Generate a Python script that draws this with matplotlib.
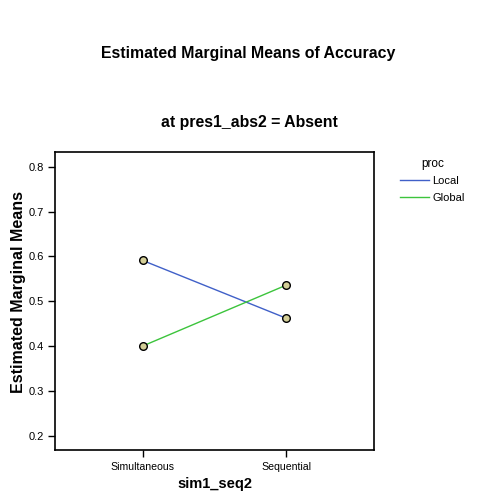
import matplotlib.pyplot as plt

plt.rcParams['font.family'] = ['Liberation Sans', 'DejaVu Sans']

# Data
levels = ['Simultaneous', 'Sequential']
local_means = [0.591, 0.462]
global_means = [0.400, 0.536]
yticks = [0.2, 0.3, 0.4, 0.5, 0.6, 0.7, 0.8]

fig = plt.figure(figsize=(5, 5), dpi=100)
ax = fig.add_axes([0.11, 0.10, 0.638, 0.596])

x = range(len(levels))
ax.plot(x, local_means, color='#4060c8', lw=1, label='Local')
ax.plot(x, global_means, color='#3cc43c', lw=1, label='Global')
for series in (local_means, global_means):
    ax.plot(x, series, ls='none', marker='o', ms=5.5, mfc='#d4cf98',
            mec='black', mew=1)

ax.set_xlim(-0.61, 1.61)
ax.set_ylim(0.168, 0.833)
ax.set_xticks(list(x))
ax.set_xticklabels(levels, fontsize=7.6)
ax.set_yticks(yticks)
ax.set_yticklabels(['%.1f' % t for t in yticks], fontsize=8)
ax.tick_params(direction='out', length=5, width=1, top=False, right=False)
ax.tick_params(axis='y', pad=3)
for sp in ax.spines.values():
    sp.set_linewidth(1.2)

ax.set_xlabel('sim1_seq2', fontsize=10.5, fontweight='bold', labelpad=4)
ax.set_ylabel('Estimated Marginal Means', fontsize=11.5, fontweight='bold')
ax.yaxis.set_label_coords(-0.092, 0.53)

fig.text(0.497, 0.893, 'Estimated Marginal Means of Accuracy', ha='center',
         va='center', fontsize=11.4, fontweight='bold')
fig.text(0.499, 0.754, 'at pres1_abs2 = Absent', ha='center', va='center',
         fontsize=11.4, fontweight='bold')

leg = ax.legend(loc='upper left', bbox_to_anchor=(0.78, 0.705),
                bbox_transform=fig.transFigure, frameon=False, title='proc',
                fontsize=8, title_fontsize=8.5, handlelength=2.6,
                handletextpad=0.3, labelspacing=0.6)

fig.savefig('out.png', dpi=100)
